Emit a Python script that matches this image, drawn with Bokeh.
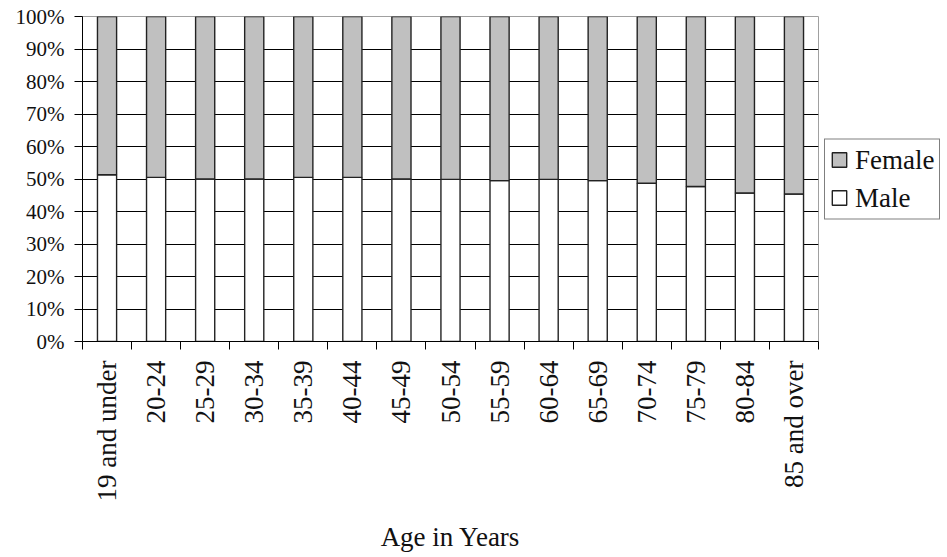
from bokeh.plotting import figure
from bokeh.models import (ColumnDataSource, FactorRange, Range1d, LinearAxis, CategoricalAxis,
                          FixedTicker, Legend, LegendItem, PrintfTickFormatter)
from bokeh.embed import file_html
from bokeh.resources import INLINE
import math

ages = ["19 and under", "20-24", "25-29", "30-34", "35-39", "40-44", "45-49", "50-54",
        "55-59", "60-64", "65-69", "70-74", "75-79", "80-84", "85 and over"]
male = [51.3, 50.5, 50.0, 50.0, 50.5, 50.5, 50.0, 49.9, 49.5, 49.9, 49.5, 48.7, 47.7, 45.7, 45.4]
female = [48.7, 49.5, 50.0, 50.0, 49.5, 49.5, 50.0, 50.1, 50.5, 50.1, 50.5, 51.3, 52.3, 54.3, 54.6]
y_ticks = [0, 10, 20, 30, 40, 50, 60, 70, 80, 90, 100]

FONT = "Liberation Serif"
TXT = "#111111"

source = ColumnDataSource(dict(age=ages, male=male, female=female))

p = figure(frame_width=736, frame_height=325, x_range=FactorRange(*ages, range_padding=0),
           y_range=Range1d(0, 100), output_backend="svg", toolbar_location=None,
           x_axis_location=None, min_border_left=82, min_border_right=128,
           min_border_top=16, min_border_bottom=205)

renderers = p.vbar_stack(["male", "female"], x="age", width=0.39, source=source,
                         fill_color=["white", "#c0c0c0"], line_color="#222222", line_width=1.4)
r_male, r_female = renderers

# y axis
ya = p.yaxis[0]
ya.ticker = FixedTicker(ticks=y_ticks)
ya.formatter = PrintfTickFormatter(format="%d%%")
ya.major_tick_in = 0
ya.major_tick_out = 8
ya.minor_tick_line_color = None
ya.axis_line_color = "#000000"
ya.major_tick_line_color = "#000000"
ya.major_label_text_font = FONT
ya.major_label_text_font_size = "21px"
ya.major_label_text_color = TXT
ya.major_label_standoff = 10

# x tick axis (ticks between categories, synthetic coordinates of the factor range)
n_bounds = len(ages) + 1
tick_axis = LinearAxis(ticker=FixedTicker(ticks=list(range(n_bounds))),
                       major_label_overrides={i: "" for i in range(n_bounds)},
                       major_tick_in=0, major_tick_out=8, minor_tick_line_color=None,
                       major_label_text_font_size="1px", major_label_standoff=0,
                       axis_line_color="#000000", major_tick_line_color="#000000")
p.add_layout(tick_axis, "below")

# x label axis
label_axis = CategoricalAxis(major_tick_in=0, major_tick_out=0, axis_line_color=None,
                             major_tick_line_color=None, major_label_orientation=math.pi / 2,
                             major_label_text_font=FONT, major_label_text_font_size="27px",
                             major_label_text_color=TXT, major_label_standoff=11,
                             axis_label="Age in Years", axis_label_text_font=FONT,
                             axis_label_text_font_size="27px", axis_label_text_font_style="normal",
                             axis_label_text_color=TXT, axis_label_standoff=18)
p.add_layout(label_axis, "below")

p.xgrid.visible = False
p.ygrid.ticker = FixedTicker(ticks=y_ticks)
p.ygrid.grid_line_color = "#000000"
p.ygrid.grid_line_width = 1
p.outline_line_color = "#a0a0a0"
p.outline_line_width = 1
p.background_fill_color = "white"
p.border_fill_color = "white"

legend = Legend(items=[LegendItem(label="Female", renderers=[r_female]),
                       LegendItem(label="Male", renderers=[r_male])],
                location="center_left", margin=6, padding=5, spacing=7,
                glyph_width=18, glyph_height=18, label_height=28, label_standoff=7,
                label_text_font=FONT, label_text_font_size="27px", label_text_color=TXT,
                border_line_color="#000000", border_line_width=1,
                background_fill_color="white", background_fill_alpha=1)
p.add_layout(legend, "right")

open("out.html", "w").write(file_html(p, INLINE))
